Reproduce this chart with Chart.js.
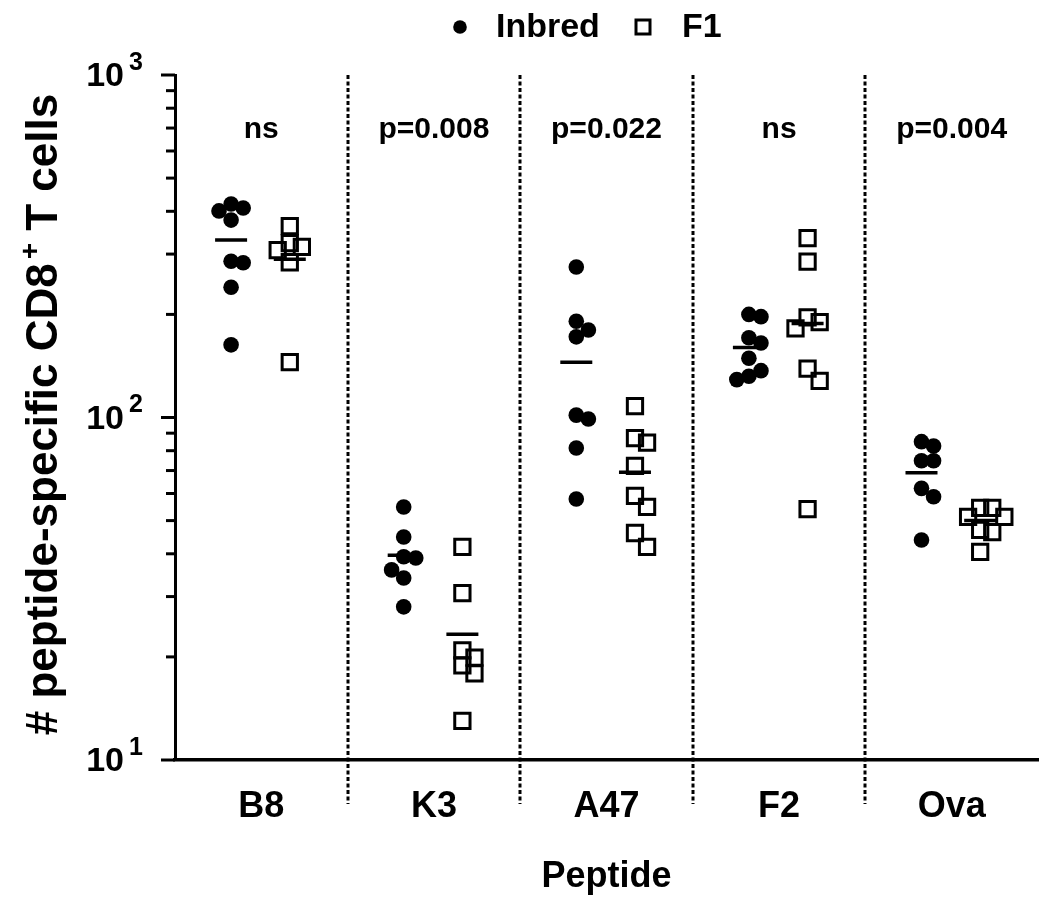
<!DOCTYPE html>
<html>
<head>
<meta charset="utf-8">
<script src="https://cdn.jsdelivr.net/npm/chart.js@4/dist/chart.umd.min.js"></script>
<style>
  body { margin: 0; background: #fff; }
</style>
</head>
<body>
<canvas id="chart" width="1050" height="901"></canvas>
<script>
// data
const peptides = ['B8', 'K3', 'A47', 'F2', 'Ova'];
const pLabels = ['ns', 'p=0.008', 'p=0.022', 'ns', 'p=0.004'];
const inbredValues = [
  [420, 409, 401, 377, 286, 283, 240, 163],
  [54.8, 44.8, 39.2, 38.9, 35.9, 34.0, 28.0],
  [275, 191, 180, 172, 101.6, 99, 81.5, 57.8],
  [200, 197, 171, 165, 149, 137, 132, 129],
  [85, 82.6, 74.8, 74.8, 62.1, 58.7, 43.9]
];
const f1Values = [
  [362, 323, 315, 308, 284, 145],
  [41.9, 30.7, 20.9, 19.9, 18.9, 17.9, 13.0],
  [108, 87.1, 84.4, 72.2, 59.0, 54.8, 46.0, 41.9],
  [334, 285, 196, 190, 182, 139, 128, 54.0],
  [54.5, 54.5, 51.3, 51.3, 47.0, 46.3, 40.5]
];
const inbredMeans = [330, 39.6, 145, 160, 69];
const f1Means = [290, 23.3, 69.2, 188, 50];
const yMajorTicks = [10, 100, 1000];

const FONT = '"Liberation Sans", Arial, sans-serif';
const INBRED_X = -0.175;
const F1_X = 0.165;

//spread overlapping points sideways (column scatter)
function spread(values, center) {
  const placed = [];
  const step = 0.07;
  return values.map(function (v) {
    const lv = Math.log10(v);
    let off = 0;
    for (const k of [0, 1, -1, 2, -2]) {
      const x = k * step;
      const hit = placed.some(p => Math.abs(p.lv - lv) < 0.042 && Math.abs(p.x - x) < 0.065);
      if (!hit) { off = x; break; }
    }
    placed.push({ lv: lv, x: off });
    return { x: center + off, y: v };
  });
}

let inbredPts = [], f1Pts = [], meanPts = [];
peptides.forEach(function (p, i) {
  inbredPts = inbredPts.concat(spread(inbredValues[i], i + INBRED_X));
  f1Pts = f1Pts.concat(spread(f1Values[i], i + F1_X));
  meanPts.push({ x: i + INBRED_X, y: inbredMeans[i] });
  meanPts.push({ x: i + F1_X, y: f1Means[i] });
});

//extra drawing: separators, y ticks with powers, titles, p values, legend
const decor = {
  id: 'decor',
  beforeDatasetsDraw(chart) {
    const ctx = chart.ctx, x = chart.scales.x, a = chart.chartArea;
    ctx.save();
    ctx.strokeStyle = '#000';
    ctx.lineWidth = 3;
    ctx.setLineDash([4, 2.5]);
    for (let i = 0; i < peptides.length - 1; i++) {
      const px = Math.round(x.getPixelForValue(i + 0.5));
      ctx.beginPath();
      ctx.moveTo(px, a.top);
      ctx.lineTo(px, a.bottom + 44);
      ctx.stroke();
    }
    ctx.restore();
  },
  afterDraw(chart) {
    const ctx = chart.ctx, x = chart.scales.x, y = chart.scales.y, a = chart.chartArea;
    ctx.save();
    ctx.fillStyle = '#000';
    ctx.strokeStyle = '#000';
    // y ticks
    ctx.lineWidth = 3;
    const ticks = [];
    for (let d = 10; d < 1000; d *= 10) {
      for (let k = 1; k < 10; k++) ticks.push(k * d);
    }
    ticks.push(1000);
    ticks.forEach(function (t) {
      const py = y.getPixelForValue(t);
      const len = yMajorTicks.includes(t) ? 14 : 9;
      ctx.beginPath();
      ctx.moveTo(a.left - len, py);
      ctx.lineTo(a.left, py);
      ctx.stroke();
    });
    // y tick labels 10^n
    yMajorTicks.forEach(function (t) {
      const py = y.getPixelForValue(t);
      ctx.font = 'bold 34px ' + FONT;
      ctx.textAlign = 'right';
      ctx.textBaseline = 'middle';
      ctx.fillText('10', a.left - 51, py + 2);
      ctx.font = 'bold 25px ' + FONT;
      ctx.textAlign = 'left';
      ctx.fillText(String(Math.round(Math.log10(t))), a.left - 46, py - 12);
    });
    // y title with superscript
    ctx.save();
    ctx.translate(45, (a.top + a.bottom) / 2 - 3);
    ctx.rotate(-Math.PI / 2);
    ctx.textBaseline = 'middle';
    ctx.textAlign = 'left';
    const big = 'bold 44px ' + FONT, small = 'bold 28px ' + FONT;
    const t1 = '# peptide-specific CD8', t2 = '+', t3 = ' T cells';
    ctx.font = big; const w1 = ctx.measureText(t1).width, w3 = ctx.measureText(t3).width;
    ctx.font = small; const w2 = ctx.measureText(t2).width + 4;
    let sx = -(w1 + w2 + w3) / 2;
    ctx.font = big; ctx.fillText(t1, sx, 0);
    ctx.font = small; ctx.fillText(t2, sx + w1 + 4, -14);
    ctx.font = big; ctx.fillText(t3, sx + w1 + w2, 0);
    ctx.restore();
    // p values
    ctx.font = 'bold 30px ' + FONT;
    ctx.textAlign = 'center';
    ctx.textBaseline = 'middle';
    pLabels.forEach(function (s, i) {
      ctx.fillText(s, x.getPixelForValue(i), y.getPixelForValue(690));
    });
    // legend
    const ly = 27;
    ctx.beginPath();
    ctx.arc(460, ly, 6.8, 0, Math.PI * 2);
    ctx.fill();
    ctx.font = 'bold 34px ' + FONT;
    ctx.textAlign = 'left';
    ctx.fillText('Inbred', 496, ly + 1);
    ctx.lineWidth = 3;
    ctx.strokeRect(636, ly - 7, 14, 14);
    ctx.fillText('F1', 682, ly + 1);
    ctx.restore();
  }
};

new Chart(document.getElementById('chart'), {
  type: 'scatter',
  data: {
    datasets: [
      {
        label: 'Means',
        data: meanPts,
        pointStyle: 'line',
        radius: 16,
        borderWidth: 3.5,
        borderColor: '#000'
      },
      {
        label: 'Inbred',
        data: inbredPts,
        pointStyle: 'circle',
        radius: 7.8,
        borderWidth: 0,
        backgroundColor: '#000'
      },
      {
        label: 'F1',
        data: f1Pts,
        pointStyle: 'rect',
        radius: 10.8,
        borderWidth: 3,
        borderColor: '#000',
        backgroundColor: 'rgba(0,0,0,0)'
      }
    ]
  },
  options: {
    responsive: false,
    animation: false,
    devicePixelRatio: 1,
    layout: { autoPadding: false, padding: { top: 75, right: 12, left: 0, bottom: 0 } },
    plugins: {
      legend: { display: false },
      tooltip: { enabled: false }
    },
    scales: {
      x: {
        type: 'linear',
        min: -0.5,
        max: 4.5,
        afterBuildTicks: s => { s.ticks = peptides.map((p, i) => ({ value: i })); },
        afterFit: s => { s.height = 141; s.paddingLeft = 0; s.paddingRight = 0; },
        ticks: {
          callback: v => peptides[v],
          color: '#000',
          padding: 25,
          font: { family: FONT, size: 36, weight: 'bold' }
        },
        grid: { display: false, drawTicks: false },
        border: { display: true, color: '#000', width: 3.5 },
        title: {
          display: true,
          text: 'Peptide',
          color: '#000',
          padding: { top: 4, bottom: 2 },
          font: { family: FONT, size: 36, weight: 'bold' }
        }
      },
      y: {
        type: 'logarithmic',
        min: 10,
        max: 1000,
        afterFit: s => { s.width = 175; },
        ticks: { display: false },
        grid: { display: false, drawTicks: false },
        border: { display: true, color: '#000', width: 3 }
      }
    }
  },
  plugins: [decor]
});
</script>
</body>
</html>
